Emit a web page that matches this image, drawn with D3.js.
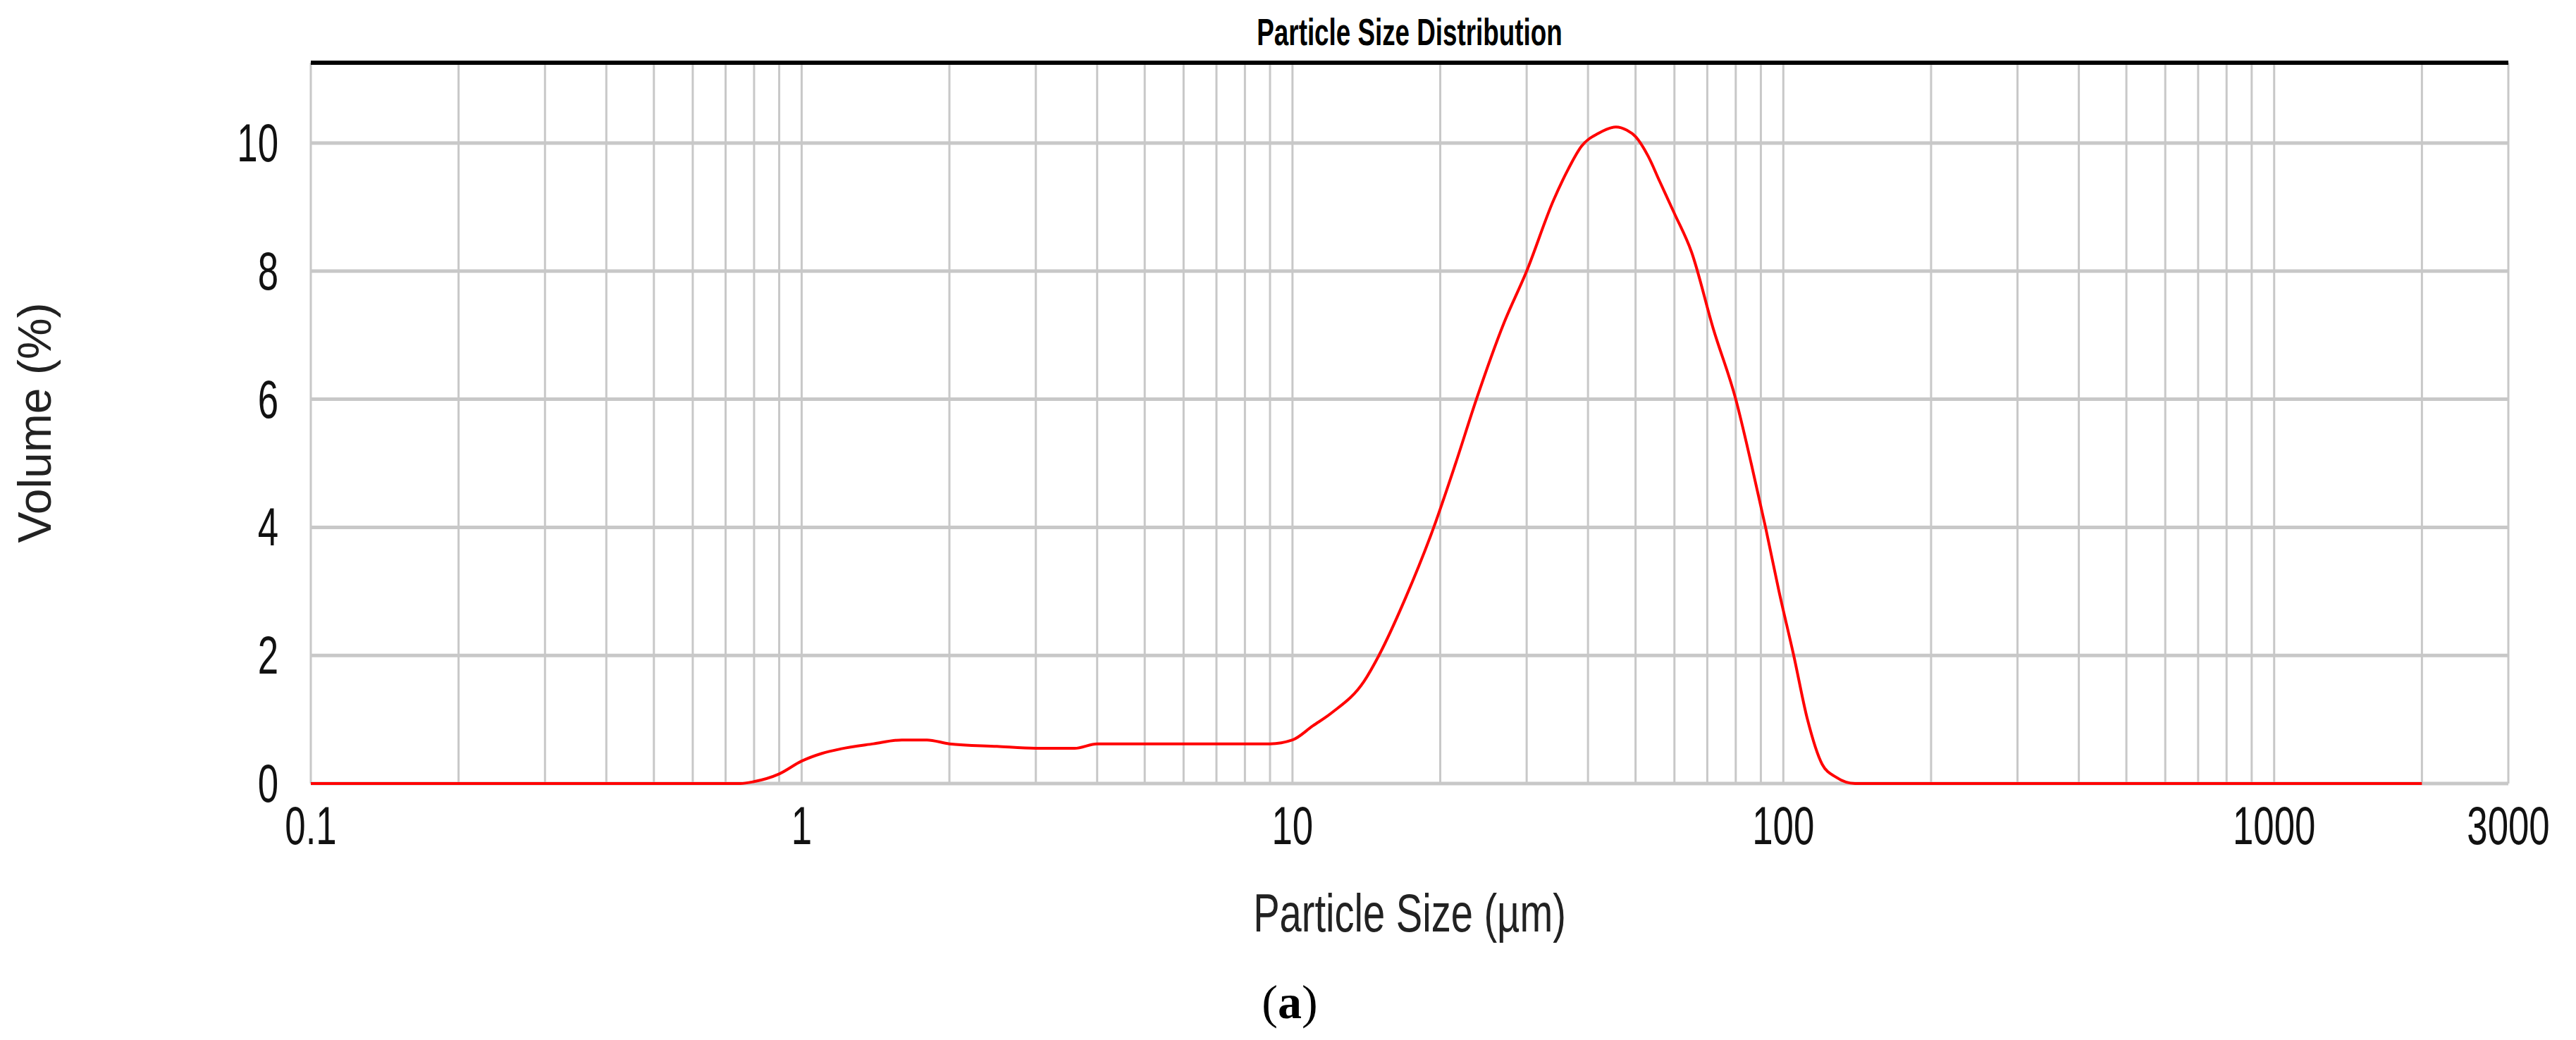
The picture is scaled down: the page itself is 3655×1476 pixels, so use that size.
<!DOCTYPE html><html><head><meta charset="utf-8">
<script src="https://cdn.jsdelivr.net/npm/d3@7"></script>
<style>body{margin:0;background:#fff}</style></head><body>
<svg id="c" width="3655" height="1476"></svg>
<script>
const sizes = [0.1,0.2,0.5,0.75,0.8,0.9,1.0,1.1,1.2,1.4,1.6,1.8,2.0,2.5,3.0,3.6,4.0,5,6,8,9,10,11,12,14,15,17,19.4,21.5,23.7,27,30,34,36.5,38.8,42,45.6,48,50,53,56,60,65,72,80,86,92,98,105,112,120,128,140,300,1000,2000];
const volume = [0,0,0,0,0.03,0.15,0.35,0.47,0.54,0.62,0.68,0.68,0.62,0.58,0.55,0.55,0.62,0.62,0.62,0.62,0.62,0.68,0.9,1.1,1.6,2.0,2.9,4.0,5.0,6.0,7.2,8.0,9.1,9.6,9.95,10.15,10.25,10.2,10.1,9.8,9.4,8.9,8.3,7.1,6.0,5.0,4.0,3.0,2.0,1.0,0.3,0.1,0,0,0,0];
const xTickLabels = [0.1,1,10,100,1000,3000];
const yTicks = [0,2,4,6,8,10];

const svg = d3.select("#c");
const L=441,R=3559,T=89,B=1112;
const x = d3.scaleLog().domain([0.1,3000]).range([L,R]);
const y = d3.scaleLinear().domain([0,10]).range([B,203]);
const grid=[];
for(let d=0.1; d<3000; d*=10) for(let k=1;k<=9;k++){const v=+(d*k).toPrecision(3); if(v<3000) grid.push(v);}
svg.append("g").selectAll("line").data(grid).join("line")
 .attr("x1",d=>x(d)).attr("x2",d=>x(d)).attr("y1",T).attr("y2",B)
 .attr("stroke","#c8c8c8").attr("stroke-width",3);
svg.append("line").attr("x1",R).attr("x2",R).attr("y1",T).attr("y2",B).attr("stroke","#c8c8c8").attr("stroke-width",3);
svg.append("g").selectAll("line").data(yTicks).join("line")
 .attr("x1",L).attr("x2",R).attr("y1",d=>y(d)).attr("y2",d=>y(d))
 .attr("stroke","#c8c8c8").attr("stroke-width",5);
svg.append("line").attr("x1",L).attr("x2",R).attr("y1",T).attr("y2",T).attr("stroke","#000").attr("stroke-width",6);
svg.append("path").datum(sizes.map((s,i)=>[s,volume[i]]))
 .attr("d",d3.line().x(d=>x(d[0])).y(d=>y(d[1])).curve(d3.curveMonotoneX))
 .attr("fill","none").attr("stroke","#ff0000").attr("stroke-width",4);
const tf="'Liberation Sans Narrow','Arial Narrow','Liberation Sans',sans-serif";
// condensed look: scale horizontally
svg.append("g").selectAll("text").data(xTickLabels).join("text")
 .attr("transform",d=>`translate(${x(d)},1198) scale(0.8,1.15)`).attr("text-anchor","middle")
 .attr("font-family",tf).attr("font-size",66).attr("fill","#111").text(d=>d);
svg.append("g").selectAll("text").data(yTicks).join("text")
 .attr("transform",d=>`translate(395,${y(d)+26}) scale(0.8,1.15)`).attr("text-anchor","end")
 .attr("font-family",tf).attr("font-size",66).attr("fill","#111").text(d=>d);
svg.append("text").attr("transform","translate(2000,64) scale(0.8,1.15)").attr("text-anchor","middle")
 .attr("font-family",tf).attr("font-weight","bold").attr("font-size",46).text("Particle Size Distribution");
svg.append("text").attr("transform","translate(2000,1322) scale(0.85,1.15)").attr("text-anchor","middle")
 .attr("font-family","'Liberation Sans',Arial,sans-serif").attr("font-size",66).attr("fill","#222").text("Particle Size (µm)");
svg.append("text").attr("transform","translate(72,600) rotate(-90)").attr("text-anchor","middle")
 .attr("font-family","'Liberation Sans',Arial,sans-serif").attr("font-size",66).attr("fill","#222").text("Volume (%)");
const a=svg.append("text").attr("x",1830).attr("y",1445).attr("text-anchor","middle")
 .attr("font-family","'Liberation Serif','Times New Roman',serif").attr("font-size",68);
a.append("tspan").text("(");a.append("tspan").attr("font-weight","bold").text("a");a.append("tspan").text(")");
</script></body></html>
